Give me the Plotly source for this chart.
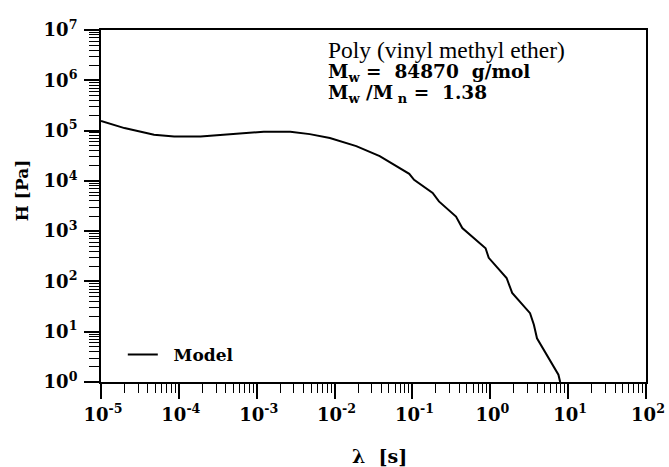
import plotly.graph_objects as go

# Relaxation time lambda [s] and relaxation spectrum H [Pa]
lam = [1.0e-5, 2.0e-5, 4.8e-5, 8.7e-5, 1.9e-4, 4.6e-4, 1.23e-3, 2.7e-3,
       4.8e-3, 8.7e-3, 1.9e-2, 3.8e-2, 5.0e-2, 9.1e-2, 1.05e-1, 1.82e-1,
       2.19e-1, 3.63e-1, 4.37e-1, 8.7e-1, 9.55e-1, 1.62, 1.91, 3.24,
       3.63, 3.98, 7.5, 7.9]
H = [1.55e5, 1.12e5, 8.3e4, 7.6e4, 7.6e4, 8.5e4, 9.5e4, 9.5e4,
     8.5e4, 7.1e4, 4.9e4, 3.1e4, 2.4e4, 1.38e4, 1.05e4, 5.75e3,
     3.9e3, 1.95e3, 1.15e3, 457, 295, 117, 59, 23.4,
     13.8, 7.4, 1.4, 1.0]

x_exps = [-5, -4, -3, -2, -1, 0, 1, 2]
y_exps = [0, 1, 2, 3, 4, 5, 6, 7]

x_major = [10.0 ** e for e in x_exps]
y_major = [10.0 ** e for e in y_exps]
x_text = ["<b>10<sup>%s</sup></b>" % e for e in x_exps]
y_text = ["<b>10<sup>%s</sup></b>" % e for e in y_exps]

SERIF = "DejaVu Serif"

fig = go.Figure()
fig.add_trace(go.Scatter(x=lam, y=H, mode="lines", name="&nbsp;&nbsp;<b>Model</b>",
                         line=dict(color="black", width=2)))

axis_common = dict(type="log", showgrid=False, zeroline=False,
                   showline=True, linecolor="black", linewidth=2,
                   mirror=True, ticks="outside", tickcolor="black",
                   tickwidth=1.5, ticklen=15, tickmode="array",
                   ticklabeloverflow="allow", automargin=False,
                   tickfont=dict(family=SERIF, size=18, color="black"))

fig.update_layout(
    width=669, height=467,
    margin=dict(l=101, r=23, t=30, b=85),
    paper_bgcolor="white", plot_bgcolor="white",
    xaxis=dict(**axis_common, range=[-5, 2], tickvals=x_major, ticktext=x_text,
               ticklabelshift=2,
               minor=dict(dtick="D1", ticks="outside",
                          ticklen=9, tickwidth=1.2, tickcolor="black", showgrid=False)),
    yaxis=dict(**axis_common, range=[0, 7], tickvals=y_major, ticktext=y_text,
               ticklabelstandoff=3,
               minor=dict(dtick="D1", ticks="outside",
                          ticklen=10, tickwidth=1.2, tickcolor="black", showgrid=False)),
    showlegend=True,
    legend=dict(x=0.04, y=0.077, xanchor="left", yanchor="middle",
                bgcolor="rgba(0,0,0,0)",
                font=dict(family=SERIF, size=17, color="black")),
)

fig.add_annotation(text="Poly (vinyl methyl ether)", xref="paper", yref="paper",
                   x=0.413, y=0.943, xanchor="left", yanchor="middle", showarrow=False,
                   font=dict(family="Liberation Serif", size=23.5, color="black"))
fig.add_annotation(text="<b>M<sub>w</sub> =  84870  g/mol</b>", xref="paper", yref="paper",
                   x=0.413, y=0.878, xanchor="left", yanchor="middle", showarrow=False,
                   font=dict(family=SERIF, size=18.5, color="black"))
fig.add_annotation(text="<b>M<sub>w</sub> /M<sub> n</sub> =  1.38</b>", xref="paper", yref="paper",
                   x=0.413, y=0.818, xanchor="left", yanchor="middle", showarrow=False,
                   font=dict(family=SERIF, size=18.5, color="black"))
fig.add_annotation(text="<b>λ  [s]</b>", xref="paper", yref="paper",
                   x=0.511, y=-0.21, xanchor="center", yanchor="middle", showarrow=False,
                   font=dict(family=SERIF, size=19, color="black"))
fig.add_annotation(text="<b>H [Pa]</b>", xref="paper", yref="paper",
                   x=-0.145, y=0.545, xanchor="center", yanchor="middle", showarrow=False,
                   textangle=-90, font=dict(family=SERIF, size=17, color="black"))

fig.write_html("out.html")
